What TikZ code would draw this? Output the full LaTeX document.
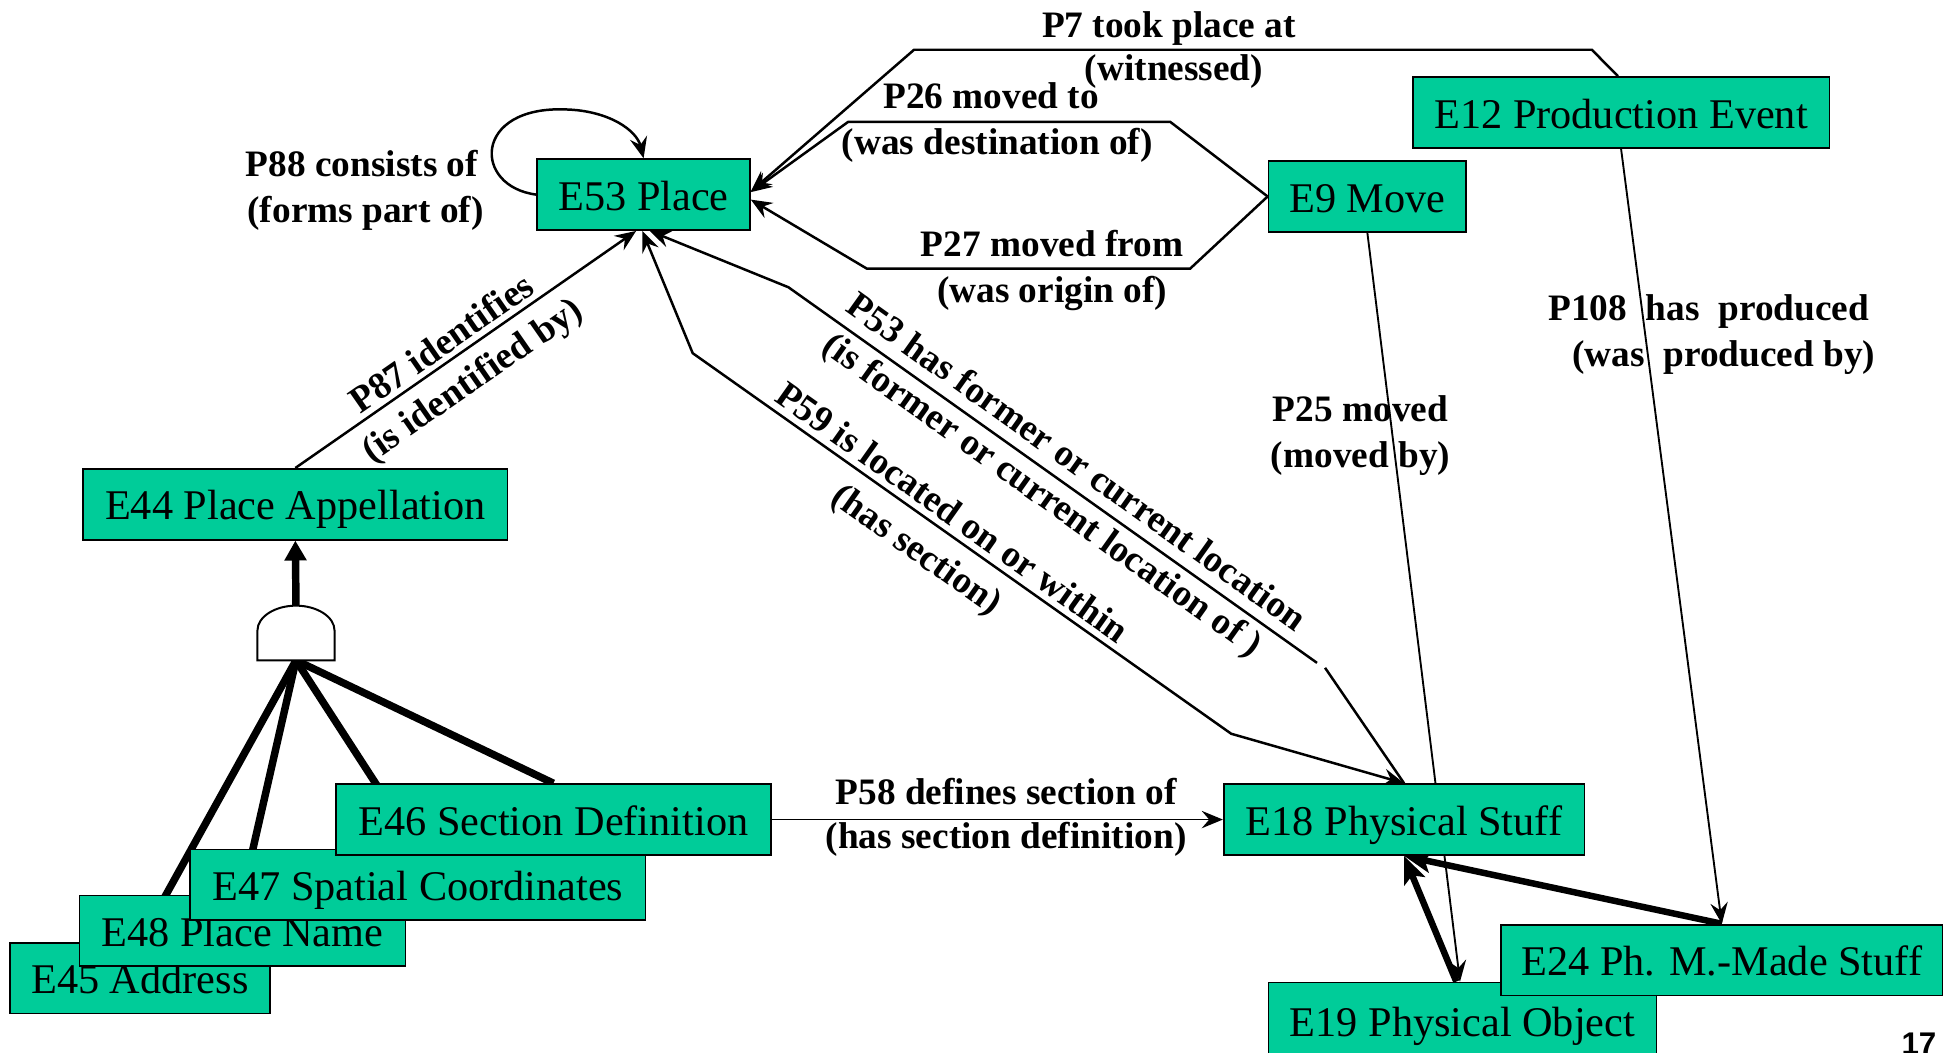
\documentclass[tikz,border=0pt]{standalone}
\usepackage{fontspec}
\setmainfont{Liberation Serif}
\newfontfamily\pagenumfont{Liberation Sans}
\usetikzlibrary{arrows.meta}
\definecolor{boxfill}{RGB}{0,204,153}
\pgfdeclarelayer{background}
\pgfsetlayers{background,main}

\begin{document}
\begin{tikzpicture}[x=0.5pt,y=-0.5pt,
  ebox/.style={draw=black, line width=0.7pt, fill=boxfill, inner sep=0pt,
    minimum height=28.5pt, text height=13pt, text depth=0.5pt,
    font=\fontsize{17}{20}\selectfont},
  lbl/.style={inner sep=0pt, text height=10pt, text depth=0pt,
    font=\bfseries\fontsize{15}{18}\selectfont},
  conn/.style={line width=1pt},
  fine/.style={line width=0.75pt},
  tip/.style={-{Stealth[length=8.5pt,width=7pt,inset=3pt]}},
  twotips/.style={{Stealth[length=8.5pt,width=7pt,inset=3pt]}-{Stealth[length=8.5pt,width=7pt,inset=3pt]}},
  isa/.style={line width=2.6pt, -{Stealth[length=11pt,width=9pt,inset=2.5pt]}},
  agg/.style={line width=3pt},
]
\useasboundingbox (0,0) rectangle (1568,846);

% ---------- classes ----------
\node[ebox, minimum width=85.5pt]  (E53) at (517.5,156.5) {E53 Place};
\node[ebox, minimum width=79.5pt]  (E9)  at (1099.5,158)  {E9 Move};
\node[ebox, minimum width=167.5pt] (E12) at (1303.5,90.5) {E12 Production Event};
\node[ebox, minimum width=170.5pt] (E44) at (237.5,405.5) {E44 Place Appellation};
\node[ebox, minimum width=104.5pt] (E45) at (112.5,786.5) {E45 Address};
\node[ebox, minimum width=131pt]   (E48) at (195,748.5)   {E48 Place Name};
\node[ebox, minimum width=183pt]   (E47) at (336,711.5)   {E47 Spatial Coordinates};
\node[ebox, minimum width=175pt]   (E46) at (445,659)     {E46 Section Definition};
\node[ebox, minimum width=145pt]   (E18) at (1129,659)    {E18 Physical Stuff};
\node[ebox, minimum width=156pt, minimum height=31pt] (E19) at (1176,821) {E19 Physical Object};
\node[ebox, minimum width=177.5pt] (E24) at (1384.5,772)  {E24 Ph. M.-Made Stuff};

% ---------- aggregation gate ----------
\coordinate (gtop) at (238,487);
\coordinate (gbot) at (238,531);
\draw[line width=0.8pt, fill=white] (207,531) -- (207,507)
  .. controls (207,496) and (221,487) .. (gtop)
  .. controls (255,487) and (269,496) .. (269,507) -- (269,531) -- cycle;

% ---------- bend points ----------
\coordinate (p7a)  at (1280,40);
\coordinate (p7b)  at (735,40);
\coordinate (p26a) at (941,98);
\coordinate (p26b) at (682,98);
\coordinate (p27a) at (957,216);
\coordinate (p27b) at (697,216);
\coordinate (p59a) at (990,590);
\coordinate (p59b) at (557,284);
\coordinate (p53a) at (1065.5,537);
\coordinate (p53b) at (1059,533);
\coordinate (p53c) at (634,231);

\begin{pgfonlayer}{background}
  \fill[white] (0,0) rectangle (1568,846);
  % aggregation of appellation kinds
  \draw[agg] (gbot) -- (E45.north);
  \draw[agg] (gbot) -- (E48.north);
  \draw[agg] (gbot) -- (E47.north);
  \draw[agg] (gbot) -- (E46.north);
  \draw[line width=3pt, -{Triangle[length=8pt,width=8.5pt]}] (gtop) -- (E44.south);
  % properties
  \draw[conn, tip] ([xshift=-1.25pt]E12.north) -- (p7a) -- (p7b) -- ([yshift=1.25pt]E53.east);
  \draw[conn, tip] (E9.west) -- (p26a) -- (p26b) -- ([yshift=1pt]E53.east);
  \draw[conn, tip] (E9.west) -- (p27a) -- (p27b) -- ([yshift=-2pt]E53.east);
  \draw[conn, tip] (E53.west) .. controls (380,150) and (380,85) .. (455,88)
                   .. controls (490,89) and (512,105) .. (E53.north);
  \draw[conn, tip] (E44.north) -- ([xshift=-3pt]E53.south);
  \draw[conn, twotips] (E18.north) -- (p59a) -- (p59b) -- ([xshift=-0.5pt]E53.south);
  \draw[conn] (E18.north) -- (p53a);
  \draw[conn, tip] (p53b) -- (p53c) -- ([xshift=2.5pt]E53.south);
  \draw[fine, tip] (E9.south) -- ([xshift=-1pt]E19.north);
  \draw[fine, tip] (E12.south) -- (E24.north);
  \draw[fine, tip] (E46.east) -- (E18.west);
  % specialisations
  \draw[isa] (E24.north) -- (E18.south);
  \draw[isa] ([xshift=-2.5pt]E19.north) -- (E18.south);
\end{pgfonlayer}

% ---------- property labels ----------
\node[lbl] (l7a)   at (940,20)   {P7 took place at};
\node[lbl] (l7b)   at (944,55)   {(witnessed)};
\node[lbl] (l26a)  at (797,77)   {P26 moved to};
\node[lbl] (l26b)  at (802,114)  {(was destination of)};
\node[lbl] (l27a)  at (846,196)  {P27 moved from};
\node[lbl] (l27b)  at (846,233)  {(was origin of)};
\node[lbl] (l88a)  at (291,132)  {P88 consists of};
\node[lbl] (l88b)  at (294,169)  {(forms part of)};
\node[lbl] (l25a)  at (1094,329) {P25 moved};
\node[lbl] (l25b)  at (1094,366) {(moved by)};
\node[lbl] (l108a) at (1374,248) {P108\ \ has\ \ produced};
\node[lbl] (l108b) at (1386,285) {(was\ \ produced by)};
\node[lbl] (l58a)  at (809,637)  {P58 defines section of};
\node[lbl] (l58b)  at (809,672)  {(has section definition)};
\node[lbl, rotate=34.8]  (l87a) at (355,276) {P87 identifies};
\node[lbl, rotate=34.8]  (l87b) at (379,305) {(is identified by)};
\node[lbl, rotate=-35.5] (l53a) at (866,371) {P53 has former or current location};
\node[lbl, rotate=-35.5] (l53b) at (839,397) {(is former or current location of )};
\node[lbl, rotate=-35.3] (l59a) at (766,412) {P59 is located on or within};
\node[lbl, rotate=-35.3] (l59b) at (738,441) {(has section)};

% ---------- page number ----------
\node[inner sep=0pt, anchor=base, font=\pagenumfont\bfseries\fontsize{12.6}{14}\selectfont]
  (pageno) at (1543,848) {17};
\end{tikzpicture}
\end{document}
